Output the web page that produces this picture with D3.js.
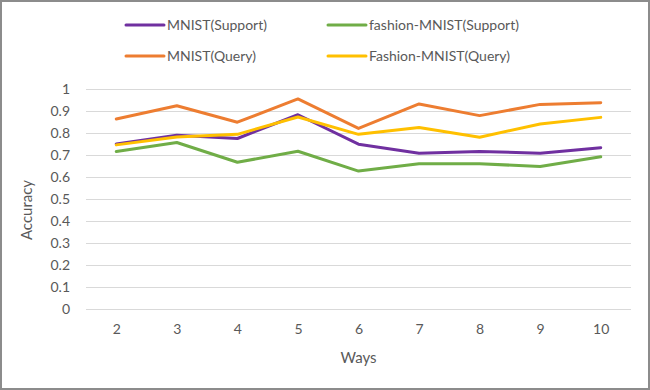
<!DOCTYPE html>
<html>
<head>
<meta charset="utf-8">
<script src="https://cdn.jsdelivr.net/npm/d3@7"></script>
<style>
  body { margin: 0; background: #fff; }
  svg text { font-family: Lato, "Open Sans", sans-serif; fill: #595959; }
</style>
</head>
<body>
<div class="canvas"></div>
<script>
var ways = ["2", "3", "4", "5", "6", "7", "8", "9", "10"];
var mnistSupport = [0.75, 0.79, 0.775, 0.883, 0.749, 0.708, 0.716, 0.708, 0.733];
var fashionSupport = [0.716, 0.757, 0.667, 0.717, 0.627, 0.66, 0.66, 0.648, 0.692];
var mnistQuery = [0.864, 0.924, 0.849, 0.955, 0.821, 0.932, 0.879, 0.93, 0.938];
var fashionQuery = [0.746, 0.782, 0.794, 0.873, 0.794, 0.825, 0.781, 0.841, 0.871];
var yTicks = [0, 0.1, 0.2, 0.3, 0.4, 0.5, 0.6, 0.7, 0.8, 0.9, 1];

var series = [
  { name: "MNIST(Support)", values: mnistSupport, color: "#7030A0" },
  { name: "fashion-MNIST(Support)", values: fashionSupport, color: "#70AD47" },
  { name: "MNIST(Query)", values: mnistQuery, color: "#ED7D31" },
  { name: "Fashion-MNIST(Query)", values: fashionQuery, color: "#FFC000" }
];
// drawing order: yellow on top of purple like the original
var drawOrder = [1, 0, 2, 3];

var width = 650, height = 390;
var plot = { left: 86, right: 631, top: 89, bottom: 309 };

var svg = d3.select(".canvas").append("svg")
  .attr("width", width)
  .attr("height", height);

svg.append("rect")
  .attr("x", 1).attr("y", 1)
  .attr("width", width - 2).attr("height", height - 2)
  .attr("fill", "#fff")
  .attr("stroke", "#8c8c8c")
  .attr("stroke-width", 2);

var x = d3.scalePoint().domain(ways).range([plot.left, plot.right]).padding(0.5);
var y = d3.scaleLinear().domain([0, 1]).range([plot.bottom, plot.top]);

// gridlines + y labels
var yAxis = svg.append("g")
  .attr("transform", "translate(" + plot.left + ",0)")
  .call(d3.axisLeft(y).tickValues(yTicks).tickSize(-(plot.right - plot.left)).tickPadding(16)
    .tickFormat(function(d){ return d3.format("")(+d.toFixed(1)); }));
yAxis.select(".domain").remove();
yAxis.selectAll(".tick line").attr("stroke", "#d9d9d9").attr("stroke-width", 1);
yAxis.selectAll(".tick text").attr("font-size", 14).attr("fill", "#595959");

var xAxis = svg.append("g")
  .attr("transform", "translate(0," + plot.bottom + ")")
  .call(d3.axisBottom(x).tickSize(0).tickPadding(15));
xAxis.select(".domain").remove();
xAxis.selectAll(".tick text").attr("font-size", 14).attr("fill", "#595959");

var line = d3.line()
  .x(function(d, i){ return x(ways[i]); })
  .y(function(d){ return y(d); });

svg.selectAll(".series")
  .data(drawOrder.map(function(i){ return series[i]; }))
  .enter()
  .append("path")
  .attr("class", "series")
  .attr("d", function(d){ return line(d.values); })
  .attr("fill", "none")
  .attr("stroke", function(d){ return d.color; })
  .attr("stroke-width", 3)
  .attr("stroke-linejoin", "round")
  .attr("stroke-linecap", "round");

// axis titles
svg.append("text")
  .attr("transform", "translate(32,210) rotate(-90)")
  .attr("text-anchor", "middle")
  .attr("font-size", 15)
  .text("Accuracy");

svg.append("text")
  .attr("x", (plot.left + plot.right) / 2)
  .attr("y", 363)
  .attr("text-anchor", "middle")
  .attr("font-size", 15)
  .text("Ways");

// legend
var legendPos = [[126, 25], [328, 25], [126, 56], [328, 56]];
var legend = svg.selectAll(".legend")
  .data(series)
  .enter()
  .append("g")
  .attr("class", "legend")
  .attr("transform", function(d, i){ return "translate(" + legendPos[i][0] + "," + legendPos[i][1] + ")"; });

legend.append("line")
  .attr("x1", 0).attr("x2", 38)
  .attr("y1", 0).attr("y2", 0)
  .attr("stroke", function(d){ return d.color; })
  .attr("stroke-width", 3)
  .attr("stroke-linecap", "round");

legend.append("text")
  .attr("x", 41)
  .attr("y", 0)
  .attr("dy", "0.35em")
  .attr("font-size", 14)
  .text(function(d){ return d.name; });
</script>
</body>
</html>
